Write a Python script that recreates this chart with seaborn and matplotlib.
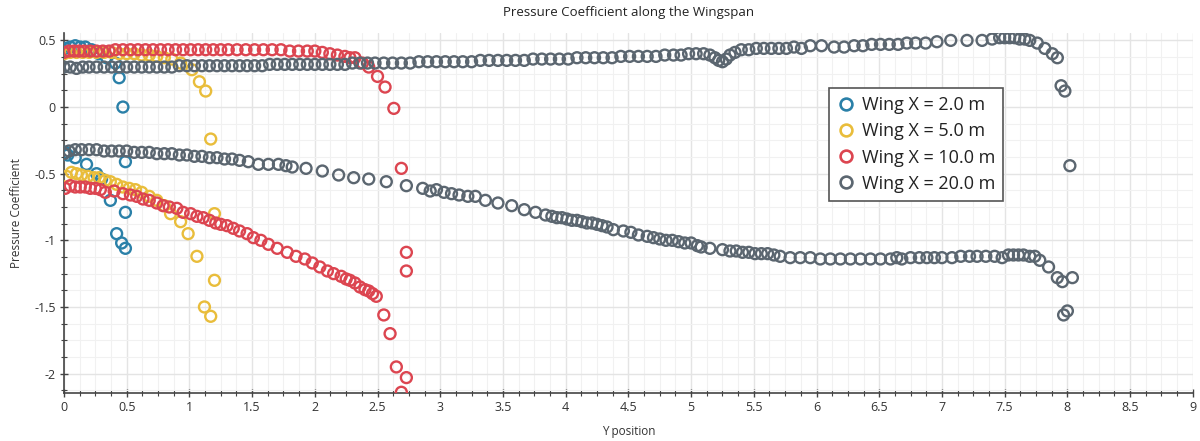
import matplotlib
matplotlib.use("Agg")
import matplotlib.pyplot as plt
from matplotlib.lines import Line2D
from matplotlib.ticker import MultipleLocator
import seaborn as sns
import pandas as pd

# ---------------- data ----------------
series_names = ["Wing X = 2.0 m", "Wing X = 5.0 m", "Wing X = 10.0 m", "Wing X = 20.0 m"]
colors = ["#2a80a8", "#e9bd3b", "#dc4550", "#5b6670"]

x_2m = [0.01, 0.05, 0.09, 0.13, 0.17, 0.22, 0.28, 0.34, 0.41, 0.44, 0.47,
        0.01, 0.03, 0.09, 0.18, 0.26, 0.30, 0.37, 0.42, 0.46, 0.49, 0.49, 0.49]
y_2m = [0.44, 0.45, 0.46, 0.45, 0.45, 0.43, 0.40, 0.37, 0.33, 0.22, 0.00,
        -0.34, -0.36, -0.38, -0.43, -0.50, -0.54, -0.70, -0.95, -1.02, -1.06, -0.79, -0.41]

x_5m = [0.00, 0.05, 0.10, 0.15, 0.20, 0.26, 0.32, 0.38, 0.44, 0.50, 0.56, 0.62, 0.68,
        0.74, 0.80, 0.86, 0.93, 1.02, 1.08, 1.13, 1.17,
        0.02, 0.06, 0.10, 0.14, 0.19, 0.24, 0.28, 0.33, 0.37, 0.42, 0.47, 0.52, 0.57,
        0.62, 0.68, 0.74, 0.80, 0.85, 0.93, 0.99, 1.06, 1.12, 1.17, 1.20, 1.20]
y_5m = [0.40, 0.41, 0.41, 0.41, 0.41, 0.41, 0.41, 0.41, 0.40, 0.40, 0.40, 0.39, 0.39,
        0.38, 0.37, 0.36, 0.33, 0.28, 0.19, 0.12, -0.24,
        -0.52, -0.49, -0.50, -0.51, -0.52, -0.53, -0.53, -0.55, -0.56, -0.58, -0.60, -0.61, -0.62,
        -0.64, -0.67, -0.70, -0.74, -0.80, -0.86, -0.95, -1.12, -1.50, -1.57, -1.30, -0.80]

x_10m = [0.00, 0.04, 0.08, 0.12, 0.16, 0.21, 0.26, 0.31, 0.36, 0.41, 0.47, 0.53, 0.59,
         0.65, 0.71, 0.77, 0.83, 0.89, 0.95, 1.01, 1.07, 1.13, 1.19, 1.25, 1.31, 1.38,
         1.45, 1.52, 1.59, 1.66, 1.73, 1.80, 1.87, 1.94, 2.00, 2.06, 2.12, 2.18, 2.24,
         2.28, 2.32, 2.38, 2.43, 2.50, 2.56, 2.63, 2.69,
         0.01, 0.05, 0.09, 0.13, 0.17, 0.21, 0.25, 0.29, 0.33, 0.40, 0.47, 0.53, 0.58,
         0.63, 0.68, 0.74, 0.79, 0.84, 0.90, 0.95, 1.01, 1.06, 1.11, 1.16, 1.21, 1.25,
         1.30, 1.35, 1.40, 1.46, 1.51, 1.57, 1.63, 1.70, 1.78, 1.85, 1.92, 1.98, 2.04,
         2.10, 2.15, 2.21, 2.25, 2.28, 2.32, 2.36, 2.40, 2.43, 2.46, 2.49, 2.55, 2.60,
         2.65, 2.69, 2.73, 2.73, 2.73]
y_10m = [0.41, 0.42, 0.42, 0.42, 0.42, 0.42, 0.42, 0.42, 0.42, 0.43, 0.43, 0.43, 0.43,
         0.43, 0.43, 0.43, 0.43, 0.43, 0.43, 0.43, 0.43, 0.43, 0.43, 0.43, 0.43, 0.43,
         0.43, 0.43, 0.43, 0.43, 0.43, 0.42, 0.42, 0.42, 0.42, 0.41, 0.40, 0.39, 0.38,
         0.37, 0.37, 0.33, 0.30, 0.23, 0.15, -0.01, -0.46,
         -0.61, -0.59, -0.60, -0.60, -0.60, -0.61, -0.61, -0.62, -0.64, -0.63, -0.65, -0.66, -0.67,
         -0.69, -0.70, -0.72, -0.74, -0.75, -0.76, -0.79, -0.80, -0.82, -0.83, -0.85, -0.87, -0.88,
         -0.89, -0.91, -0.93, -0.95, -0.98, -1.00, -1.03, -1.06, -1.09, -1.12, -1.14, -1.17, -1.20,
         -1.23, -1.25, -1.27, -1.29, -1.30, -1.32, -1.35, -1.37, -1.38, -1.40, -1.42, -1.56, -1.70,
         -1.95, -2.14, -2.03, -1.23, -1.09]

x_20m = [0.00, 0.05, 0.10, 0.15, 0.20, 0.26, 0.32, 0.38, 0.44, 0.50, 0.56, 0.62, 0.68,
         0.74, 0.80, 0.86, 0.92, 0.98, 1.04, 1.10, 1.16, 1.22, 1.28, 1.34, 1.40, 1.46,
         1.52, 1.58, 1.64, 1.70, 1.76, 1.82, 1.88, 1.94, 2.00, 2.06, 2.12, 2.18, 2.24,
         2.30, 2.36, 2.42, 2.48, 2.55, 2.62, 2.69, 2.76, 2.83, 2.90, 2.97, 3.04, 3.11,
         3.18, 3.25, 3.32, 3.39, 3.46, 3.53, 3.60, 3.67, 3.74, 3.81, 3.88, 3.95, 4.02,
         4.09, 4.16, 4.23, 4.30, 4.37, 4.44, 4.51, 4.58, 4.65, 4.72, 4.79, 4.86, 4.92,
         4.98, 5.04, 5.10, 5.15, 5.19, 5.22, 5.25, 5.28, 5.31, 5.35, 5.40, 5.46, 5.52,
         5.58, 5.64, 5.70, 5.76, 5.82, 5.88, 5.95, 6.04, 6.14, 6.22, 6.30, 6.37, 6.44,
         6.51, 6.58, 6.65, 6.72, 6.79, 6.87, 6.96, 7.07, 7.20, 7.32, 7.40, 7.46, 7.50,
         7.54, 7.58, 7.62, 7.66, 7.70, 7.76, 7.82, 7.88, 7.92, 7.95, 7.98, 8.02,
         0.00, 0.04, 0.09, 0.14, 0.20, 0.26, 0.32, 0.38, 0.44, 0.50, 0.56, 0.62, 0.68,
         0.74, 0.80, 0.86, 0.92, 0.98, 1.04, 1.10, 1.16, 1.22, 1.28, 1.34, 1.40, 1.47,
         1.55, 1.63, 1.71, 1.77, 1.82, 1.93, 2.06, 2.19, 2.31, 2.43, 2.57, 2.73, 2.86,
         2.92, 2.97, 3.03, 3.09, 3.15, 3.22, 3.28, 3.36, 3.46, 3.57, 3.67, 3.76, 3.84,
         3.89, 3.93, 3.97, 4.01, 4.05, 4.09, 4.13, 4.17, 4.21, 4.25, 4.29, 4.33, 4.38,
         4.46, 4.52, 4.58, 4.65, 4.70, 4.75, 4.80, 4.85, 4.90, 4.95, 5.00, 5.05, 5.08,
         5.15, 5.25, 5.31, 5.36, 5.41, 5.46, 5.51, 5.56, 5.61, 5.66, 5.71, 5.79, 5.87,
         5.95, 6.03, 6.11, 6.19, 6.27, 6.35, 6.43, 6.51, 6.59, 6.64, 6.68, 6.75, 6.82,
         6.88, 6.94, 7.00, 7.08, 7.15, 7.22, 7.28, 7.35, 7.42, 7.48, 7.53, 7.57, 7.61,
         7.65, 7.70, 7.74, 7.78, 7.85, 7.92, 7.96, 7.97, 8.00, 8.04]
y_20m = [0.30, 0.30, 0.29, 0.30, 0.30, 0.30, 0.30, 0.30, 0.30, 0.30, 0.30, 0.30, 0.30,
         0.30, 0.30, 0.30, 0.31, 0.31, 0.31, 0.31, 0.31, 0.31, 0.31, 0.31, 0.31, 0.31,
         0.31, 0.31, 0.32, 0.32, 0.32, 0.32, 0.32, 0.32, 0.32, 0.32, 0.32, 0.32, 0.32,
         0.33, 0.33, 0.33, 0.33, 0.33, 0.33, 0.33, 0.33, 0.34, 0.34, 0.34, 0.34, 0.34,
         0.34, 0.34, 0.35, 0.35, 0.35, 0.35, 0.35, 0.35, 0.36, 0.36, 0.36, 0.36, 0.36,
         0.37, 0.37, 0.37, 0.37, 0.37, 0.38, 0.38, 0.38, 0.38, 0.38, 0.39, 0.39, 0.39,
         0.40, 0.40, 0.40, 0.39, 0.37, 0.35, 0.34, 0.36, 0.39, 0.41, 0.43, 0.43, 0.44,
         0.44, 0.44, 0.44, 0.44, 0.45, 0.44, 0.46, 0.46, 0.45, 0.45, 0.46, 0.46, 0.47,
         0.47, 0.47, 0.47, 0.48, 0.48, 0.48, 0.49, 0.50, 0.50, 0.50, 0.51, 0.52, 0.52,
         0.52, 0.52, 0.51, 0.51, 0.50, 0.48, 0.44, 0.40, 0.37, 0.16, 0.12, -0.44,
         -0.35, -0.33, -0.32, -0.32, -0.32, -0.32, -0.33, -0.33, -0.33, -0.33, -0.34, -0.34, -0.34,
         -0.35, -0.35, -0.35, -0.36, -0.36, -0.37, -0.37, -0.38, -0.38, -0.39, -0.39, -0.40, -0.41,
         -0.43, -0.43, -0.43, -0.44, -0.45, -0.46, -0.48, -0.51, -0.53, -0.54, -0.56, -0.59, -0.61,
         -0.63, -0.62, -0.64, -0.65, -0.66, -0.67, -0.67, -0.70, -0.72, -0.74, -0.77, -0.79, -0.81,
         -0.82, -0.83, -0.83, -0.84, -0.85, -0.85, -0.86, -0.87, -0.87, -0.88, -0.89, -0.90, -0.92,
         -0.93, -0.94, -0.96, -0.97, -0.98, -0.99, -1.00, -1.00, -1.01, -1.02, -1.02, -1.04, -1.05,
         -1.06, -1.07, -1.08, -1.08, -1.09, -1.09, -1.10, -1.10, -1.10, -1.11, -1.12, -1.13, -1.13,
         -1.13, -1.14, -1.14, -1.14, -1.14, -1.14, -1.14, -1.14, -1.14, -1.13, -1.14, -1.13, -1.13,
         -1.13, -1.13, -1.13, -1.13, -1.12, -1.12, -1.12, -1.12, -1.12, -1.13, -1.11, -1.11, -1.11,
         -1.11, -1.12, -1.12, -1.15, -1.20, -1.28, -1.31, -1.56, -1.53, -1.28]

xs = [x_2m, x_5m, x_10m, x_20m]
ys = [y_2m, y_5m, y_10m, y_20m]

frames = [pd.DataFrame({"Y position": x, "Pressure Coefficient": y, "series": n})
          for x, y, n in zip(xs, ys, series_names)]
df = pd.concat(frames, ignore_index=True)

# ---------------- style ----------------
sns.set_theme(style="white")
plt.rcParams["font.family"] = ["Open Sans", "DejaVu Sans"]

fig = plt.figure(figsize=(12, 4.41), dpi=100)
ax = fig.add_axes([0.0533, 0.109, 0.9407, 0.816])

for name, col in zip(series_names, colors):
    sub = df[df["series"] == name]
    sns.scatterplot(data=sub, x="Y position", y="Pressure Coefficient", ax=ax,
                    s=62, marker="o", color=col, legend=False, zorder=3)
    coll = ax.collections[-1]
    coll.set_facecolor("none")
    coll.set_edgecolor(col)
    coll.set_linewidth(1.7)

ax.set_xlim(0, 9)
ax.set_ylim(-2.145, 0.555)
ax.xaxis.set_major_locator(MultipleLocator(0.5))
ax.xaxis.set_minor_locator(MultipleLocator(0.125))
ax.yaxis.set_major_locator(MultipleLocator(0.5))
ax.yaxis.set_minor_locator(MultipleLocator(0.125))

def fmt(v, pos):
    s = f"{v:g}"
    return "0" if s in ("-0", "0") else s
ax.xaxis.set_major_formatter(plt.FuncFormatter(fmt))
ax.yaxis.set_major_formatter(plt.FuncFormatter(fmt))

ax.grid(True, which="major", color="#e4e4e4", linewidth=1.0, zorder=0)
ax.grid(True, which="minor", color="#f1f1f1", linewidth=0.8, zorder=0)
ax.set_axisbelow(True)

for side in ["top", "right"]:
    ax.spines[side].set_visible(False)
for side in ["left", "bottom"]:
    ax.spines[side].set_color("#444444")
    ax.spines[side].set_linewidth(1.2)

ax.tick_params(axis="both", which="major", direction="inout", length=6, width=1,
               color="#444444", labelsize=9, labelcolor="#333333", pad=3,
               bottom=True, left=True)
ax.tick_params(axis="both", which="minor", direction="inout", length=4, width=0.8,
               color="#444444", bottom=True, left=True)

ax.set_xlabel("Y position", fontsize=8.5, color="#333333", labelpad=8)
ax.set_ylabel("Pressure Coefficient", fontsize=8.5, color="#333333", labelpad=8)
ax.set_title("Pressure Coefficient along the Wingspan", fontsize=9.5, color="#222222", pad=12)

handles = [Line2D([0], [0], marker="o", linestyle="none", markerfacecolor="none",
                  markeredgecolor=c, markeredgewidth=1.9, markersize=8.5) for c in colors]
leg = ax.legend(handles, series_names, loc="upper left", bbox_to_anchor=(0.678, 0.847),
                fontsize=13, frameon=True, fancybox=False, edgecolor="#555555",
                handletextpad=0.35, handlelength=1.0, labelspacing=0.45, borderpad=0.45,
                borderaxespad=0)
leg.get_frame().set_linewidth(1.2)
leg.get_frame().set_facecolor("white")
leg.get_frame().set_alpha(1.0)
for t in leg.get_texts():
    t.set_color("#222222")

fig.savefig("out.png", dpi=100)
